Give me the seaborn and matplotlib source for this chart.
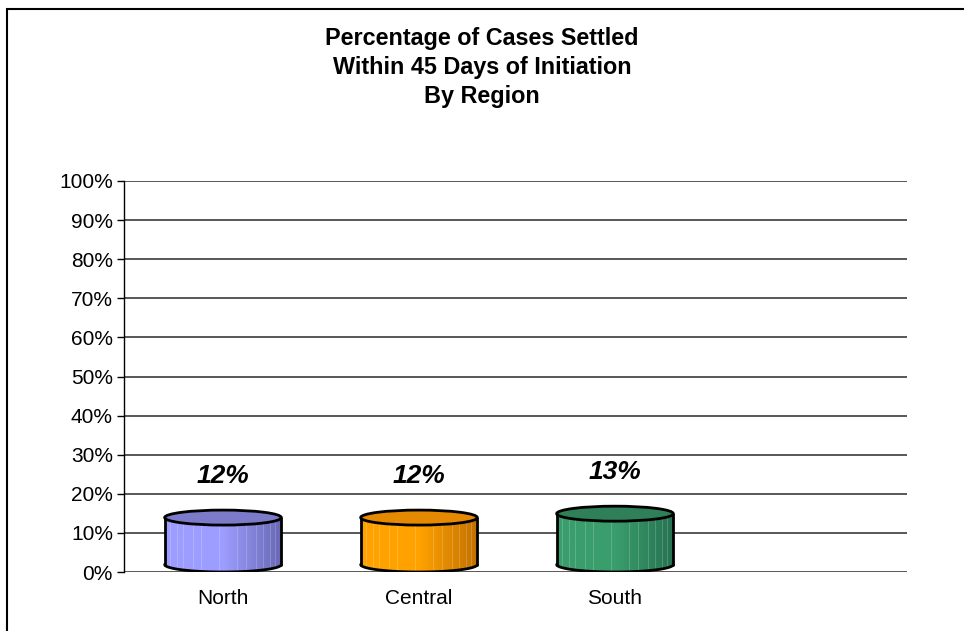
import numpy as np
import pandas as pd
import matplotlib
matplotlib.use("Agg")
import matplotlib.pyplot as plt
import seaborn as sns
from matplotlib.patches import Ellipse, Rectangle, Polygon
from matplotlib.colors import LinearSegmentedColormap

# ---- data ----
regions = ["North", "Central", "South"]
settled_pct = [0.12, 0.12, 0.13]
value_labels = ["12%", "12%", "13%"]
y_ticks = [0.0, 0.1, 0.2, 0.3, 0.4, 0.5, 0.6, 0.7, 0.8, 0.9, 1.0]
y_tick_labels = ["0%", "10%", "20%", "30%", "40%", "50%", "60%", "70%", "80%", "90%", "100%"]
title_text = "Percentage of Cases Settled\nWithin 45 Days of Initiation\nBy Region"

# styles
body_light = ["#9d9dff", "#ffa200", "#3a9d6c"]
body_dark = ["#6868b4", "#c27000", "#267250"]
top_colors = ["#7b7bc9", "#e58a00", "#2f8059"]

sns.set_theme(style="white")
plt.rcParams["font.family"] = ["Liberation Sans", "DejaVu Sans"]

fig = plt.figure(figsize=(9.64, 6.31), dpi=100)
fig.patch.set_facecolor("white")
ax = fig.add_axes([124 / 964, 1 - 572 / 631, (907 - 124) / 964, (572 - 181) / 631])

df = pd.DataFrame({"region": regions, "pct": settled_pct})
sns.barplot(data=df, x="region", y="pct", hue="region", palette=body_light,
            width=0.595, legend=False, ax=ax, zorder=3)

ax.set_ylim(0, 1.0)
ax.set_xlim(-0.505, 3.49)

# ellipse half height in data units (~7.5px of 391px)
hh = 7.5 / 391.0

for i, patch in enumerate(list(ax.patches)):
    x0 = patch.get_x()
    w = patch.get_width()
    v = patch.get_height()
    patch.set_visible(False)
    cx = x0 + w / 2
    t = np.linspace(np.pi, 2 * np.pi, 80)
    bx = cx + (w / 2) * np.cos(t)
    by = hh + hh * np.sin(t)
    pts = list(zip(bx, by)) + [(x0 + w, v + hh), (x0, v + hh)]
    clip = Polygon(pts, closed=True, transform=ax.transData, facecolor="none",
                   edgecolor="none")
    ax.add_patch(clip)
    cmap = LinearSegmentedColormap.from_list(
        "c%d" % i, [body_light[i], body_light[i], body_dark[i]])
    grad = np.linspace(0, 1, 256).reshape(1, -1)
    im = ax.imshow(grad, cmap=cmap, aspect="auto",
                   extent=[x0, x0 + w, 0, v + hh], zorder=3,
                   interpolation="bilinear")
    im.set_clip_path(clip)
    # faint vertical stripes
    for fx in [0.05, 0.11, 0.16, 0.24, 0.31, 0.47, 0.62, 0.7, 0.78, 0.84, 0.9, 0.95]:
        xx = x0 + fx * w
        yb = hh - hh * np.sqrt(max(0.0, 1 - ((xx - cx) / (w / 2)) ** 2))
        ax.plot([xx, xx], [yb, v + hh], color="white", alpha=0.22, lw=0.6,
                zorder=4, solid_capstyle="butt")
    ax.plot(bx, by, color="black", lw=2.0, zorder=5)
    ax.plot([x0, x0], [hh, v + hh], color="black", lw=2.0, zorder=5)
    ax.plot([x0 + w, x0 + w], [hh, v + hh], color="black", lw=2.0, zorder=5)
    top = Ellipse((cx, v + hh), width=w, height=2 * hh, facecolor=top_colors[i],
                  edgecolor="black", lw=2.0, zorder=6)
    ax.add_patch(top)
    ax.text(cx, v + 2 * hh + 0.087, value_labels[i], ha="center", va="center",
            fontsize=19, fontweight="bold", fontstyle="italic", color="black",
            zorder=7)

ax.set_yticks(y_ticks)
ax.set_yticklabels(y_tick_labels)
for yv in y_ticks:
    ax.axhline(yv, color="#4a4a4a", lw=1.3, zorder=1)
ax.grid(False)
for s in ["top", "right", "bottom"]:
    ax.spines[s].set_visible(False)
ax.spines["left"].set_color("black")
ax.spines["left"].set_linewidth(1.0)
ax.spines["left"].set_zorder(2)
ax.tick_params(axis="y", which="both", left=True, length=5, width=1.0,
               color="black", pad=3, labelsize=15, labelcolor="black")
ax.tick_params(axis="x", which="both", bottom=False, length=0, pad=12,
               labelsize=15, labelcolor="black")
ax.set_xlabel("")
ax.set_ylabel("")
ax.set_facecolor("white")

fig.text(482 / 964, 1 - 67.5 / 631, title_text, ha="center", va="center",
         fontsize=16.8, fontweight="bold", linespacing=1.31, color="black")

fig.patches.append(Rectangle((7 / 964, -0.1), 1.2, 1 - 8.5 / 631 + 0.1,
                             transform=fig.transFigure, fill=False,
                             edgecolor="black", lw=1.5))

fig.savefig("out.png", dpi=100, facecolor="white")
